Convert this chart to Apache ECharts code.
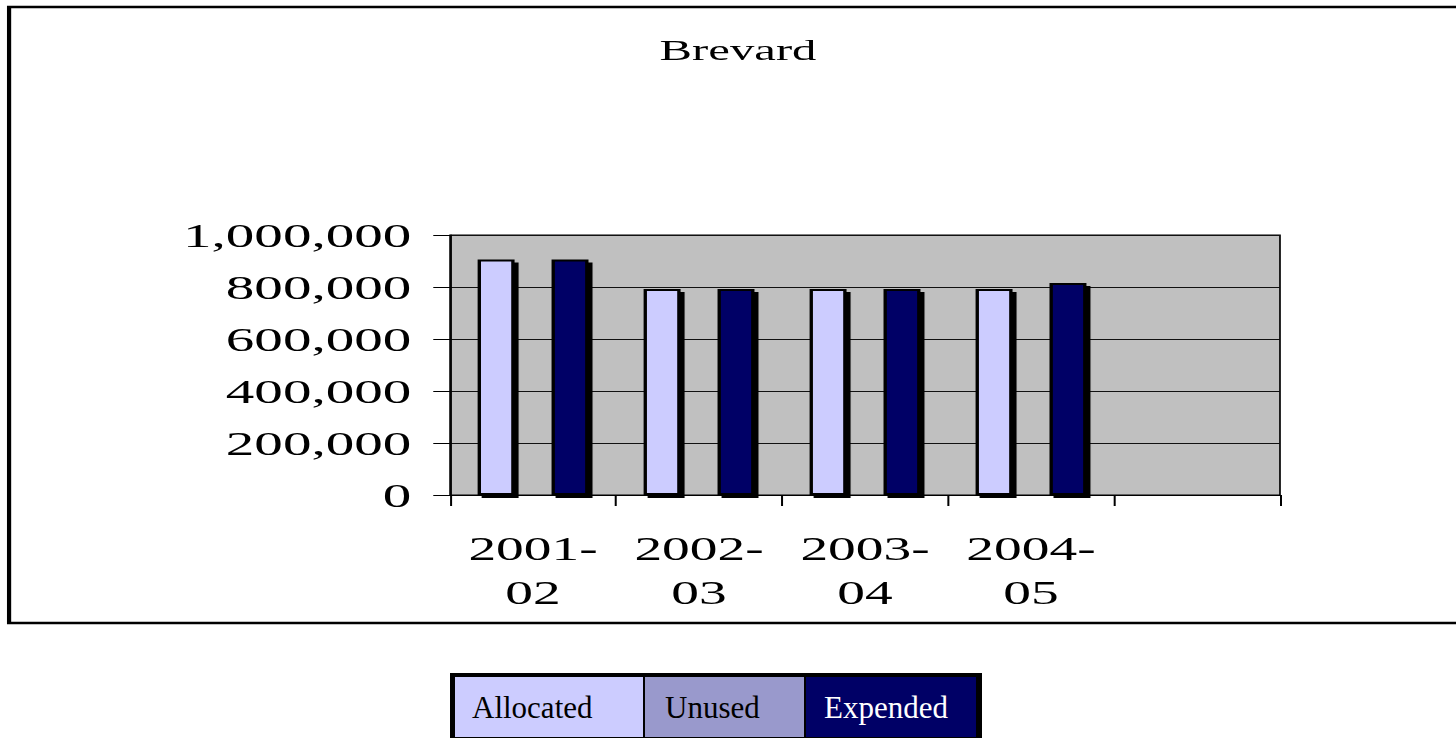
<!DOCTYPE html>
<html>
<head>
<meta charset="utf-8">
<script src="https://cdn.jsdelivr.net/npm/echarts@6/dist/echarts.min.js"></script>
<style>
  html, body { margin: 0; padding: 0; background: #fff; overflow: hidden; }
  #page { position: relative; width: 1456px; height: 738px; }
  /* the chart frame is drawn narrow and widened horizontally */
  #main { position: absolute; left: 0; top: 0; width: 866.67px; height: 738px;
          transform: scaleX(1.68); transform-origin: 0 0; }
  #key { position: absolute; left: 0; top: 660px; width: 1456px; height: 78px; }
</style>
</head>
<body>
<div id="page">
  <div id="main"></div>
  <div id="key"></div>
</div>
<script>
// Brevard: allocated / unused / expended by fiscal year
const title = 'Brevard';
const categories = ['2001-\n02', '2002-\n03', '2003-\n04', '2004-\n05', ''];
const seriesNames = ['Allocated', 'Unused', 'Expended'];
const allocated = [906000, 792000, 792000, 792000, null];
const unused = [null, null, null, null, null];
const expended = [906000, 792000, 792000, 815000, null];
const yTicks = { min: 0, max: 1000000, interval: 200000 };

const colors = ['#CCCCFF', '#9999CC', '#000066'];
const textColors = ['#000', '#000', '#fff'];
const serif = '"Liberation Serif", "Times New Roman", Times, serif';

const chart = echarts.init(document.getElementById('main'), null, { renderer: 'svg' });

const barStyle = (c) => ({
  color: c,
  borderColor: '#000',
  borderWidth: 2,
  shadowColor: '#000',
  shadowBlur: 0,
  shadowOffsetX: 2.4,
  shadowOffsetY: 3
});

chart.setOption({
  animation: false,
  backgroundColor: '#fff',
  graphic: [
    {
      type: 'rect',
      shape: { x: 5.4, y: 7, width: 900, height: 616 },
      style: { fill: 'none', stroke: '#000', lineWidth: 2.5 },
      silent: true
    },
    {
      type: 'text',
      x: 439.3,
      y: 36,
      style: { text: title, fontFamily: serif, fontSize: 29, fill: '#000', align: 'center', verticalAlign: 'top' }
    }
  ],
  grid: {
    left: 267.9, top: 235, width: 494, height: 260,
    show: true, backgroundColor: '#C0C0C0', borderColor: '#000', borderWidth: 1
  },
  xAxis: {
    type: 'category',
    data: categories,
    boundaryGap: true,
    axisLine: { lineStyle: { color: '#000', width: 1 } },
    axisTick: { show: true, length: 11, inside: false, alignWithLabel: false, lineStyle: { color: '#000', width: 1.2 } },
    axisLabel: { fontFamily: serif, fontSize: 33, color: '#000', lineHeight: 44, margin: 32, interval: 0 }
  },
  yAxis: {
    type: 'value',
    min: yTicks.min, max: yTicks.max, interval: yTicks.interval,
    axisLine: { show: true, lineStyle: { color: '#000', width: 1 } },
    axisTick: { show: true, length: 10, lineStyle: { color: '#000', width: 1 } },
    splitLine: { show: true, lineStyle: { color: '#111', width: 1 } },
    axisLabel: {
      fontFamily: serif, fontSize: 34, color: '#000', margin: 23,
      formatter: (v) => v.toLocaleString('en-US')
    }
  },
  series: [
    { name: seriesNames[0], type: 'bar', data: allocated, barWidth: 22, barGap: '0%', itemStyle: barStyle(colors[0]) },
    { name: seriesNames[1], type: 'bar', data: unused, barWidth: 22, barGap: '0%', itemStyle: barStyle(colors[1]) },
    { name: seriesNames[2], type: 'bar', data: expended, barWidth: 22, barGap: '0%', itemStyle: barStyle(colors[2]) }
  ]
});

// Legend strip under the chart frame: one filled cell per series
const cellWidths = [188, 159, 170];
const cellPadLeft = [17, 20, 18];
const key = echarts.init(document.getElementById('key'), null, { renderer: 'svg' });
key.setOption({
  animation: false,
  grid: { left: 0, top: 0, width: 1, height: 1, show: false },
  xAxis: { type: 'category', show: false, data: [] },
  yAxis: { type: 'value', show: false },
  legend: {
    left: 450, top: 13,
    orient: 'horizontal',
    selectedMode: false,
    backgroundColor: '#000',
    padding: [4, 6, 4, 0],
    itemGap: -3,
    itemWidth: 0,
    itemHeight: 0,
    icon: 'rect',
    data: seriesNames.map((n, i) => ({
      name: n,
      itemStyle: { opacity: 0 },
      textStyle: {
        fontFamily: serif, fontSize: 31,
        color: textColors[i],
        backgroundColor: colors[i],
        width: cellWidths[i] - cellPadLeft[i],
        height: 60, lineHeight: 60,
        padding: [0, 0, 0, cellPadLeft[i]]
      }
    }))
  },
  series: seriesNames.map((n, i) => ({ name: n, type: 'bar', data: [], itemStyle: { color: colors[i] } }))
});
</script>
</body>
</html>
